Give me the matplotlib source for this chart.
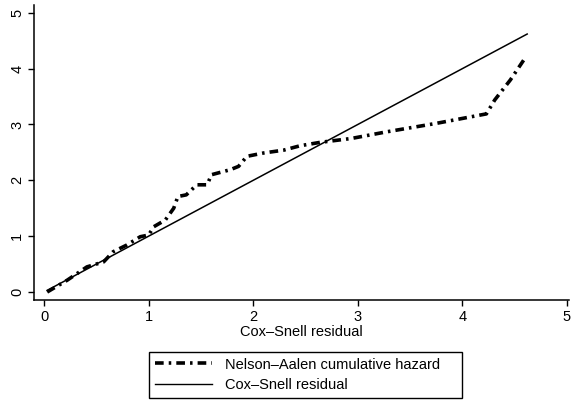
import matplotlib.pyplot as plt
from matplotlib.lines import Line2D

plt.rcParams['font.family'] = ['Liberation Sans', 'DejaVu Sans']

# Nelson-Aalen cumulative hazard vs Cox-Snell residual
cs_resid = [0.03, 0.22, 0.41, 0.57, 0.66, 0.79, 0.92, 1.00, 1.05, 1.16, 1.24, 1.28,
            1.36, 1.46, 1.56, 1.60, 1.78, 1.86, 1.94, 2.10, 2.29, 2.45, 2.64, 2.94,
            3.28, 3.75, 4.23, 4.31, 4.46, 4.60]
na_hazard = [0.00, 0.21, 0.45, 0.54, 0.72, 0.84, 0.99, 1.02, 1.17, 1.29, 1.50, 1.71,
             1.74, 1.92, 1.92, 2.10, 2.19, 2.25, 2.43, 2.49, 2.54, 2.62, 2.68, 2.75,
             2.87, 3.02, 3.19, 3.44, 3.80, 4.19]
# reference line: hazard = residual
ref_x = [0.03, 4.62]

DASH = (2.4, 1.4, 0.7, 1.4)

fig = plt.figure(figsize=(5.71, 4.0), dpi=100)
ax = fig.add_axes([34/571, 0.25, 535/571, 0.7375])

ax.plot(cs_resid, na_hazard, color='black', lw=2.6, dashes=DASH,
        solid_capstyle='butt')
ax.plot(ref_x, ref_x, color='black', lw=1.1)

ax.set_xlim(-0.096, 5.02)
ax.set_ylim(-0.143, 5.14)
ax.set_xticks(range(6))
ax.set_yticks(range(6))
ax.tick_params(direction='out', length=4, width=1, labelsize=10.5, pad=3)
plt.setp(ax.get_yticklabels(), rotation=90, va='center')
for s in ['top', 'right']:
    ax.spines[s].set_visible(False)
for s in ['left', 'bottom']:
    ax.spines[s].set_linewidth(1.1)
ax.set_xlabel('Cox\u2013Snell residual', fontsize=10.5, labelpad=1)

handles = [Line2D([], [], color='black', lw=2.6, dashes=DASH),
           Line2D([], [], color='black', lw=1.0)]
labels = ['Nelson\u2013Aalen cumulative hazard', 'Cox\u2013Snell residual']
leg = fig.legend(handles, labels, loc='lower left',
                 bbox_to_anchor=(149/571, 0.005, 313/571, 0.1225), mode='expand',
                 borderaxespad=0, fancybox=False, edgecolor='black', framealpha=1,
                 fontsize=10.5, handlelength=3.9, handletextpad=0.9,
                 labelspacing=0.45, borderpad=0.4, handleheight=0.8)
leg.get_frame().set_linewidth(1.0)

fig.savefig('out.png', dpi=100)
